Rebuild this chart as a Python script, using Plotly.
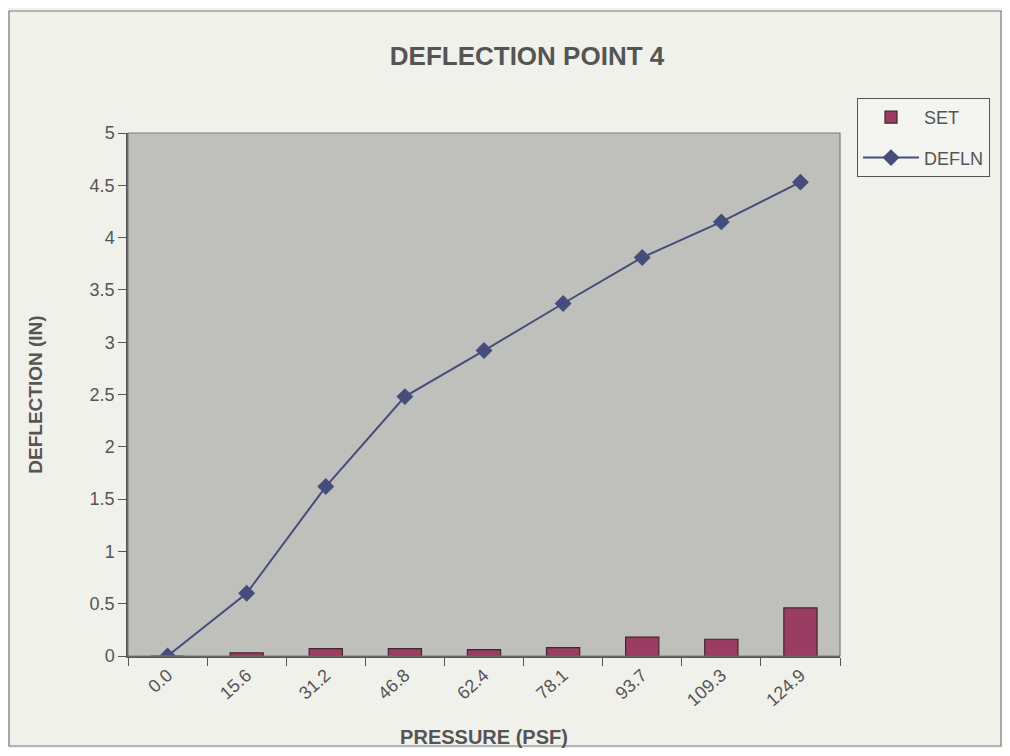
import plotly.graph_objects as go

pressure = ["0.0", "15.6", "31.2", "46.8", "62.4", "78.1", "93.7", "109.3", "124.9"]
set_vals = [0.0, 0.03, 0.07, 0.07, 0.06, 0.08, 0.18, 0.16, 0.46]
defln_vals = [0.0, 0.60, 1.62, 2.48, 2.92, 3.37, 3.81, 4.15, 4.53]

font_family = "Liberation Sans, Arial, sans-serif"
text_color = "#555555"

# page body has an 8px default margin; figure sized to fit inside window
W, H = 994, 740
L, T, R, B = 120, 125, 162, 92
pw, ph = W - L - R, H - T - B


def py(p):
    """figure pixel row -> paper y"""
    return (T + ph - p) / ph


def px(p):
    """figure pixel column -> paper x"""
    return (p - L) / pw


fig = go.Figure()
fig.add_trace(go.Bar(
    x=pressure, y=set_vals, name="SET", legendgroup="a",
    marker=dict(color="#9B3D63", line=dict(color="#3a2a30", width=1.2)),
    width=0.42,
))
fig.add_trace(go.Scatter(
    x=pressure, y=defln_vals, name="DEFLN", mode="lines+markers", legendgroup="b",
    line=dict(color="#454D7C", width=2),
    marker=dict(symbol="diamond", size=13, color="#454D7C"),
))

fig.update_layout(
    width=W, height=H,
    margin=dict(l=L, r=R, t=T, b=B, autoexpand=False),
    paper_bgcolor="#F1F1EC",
    plot_bgcolor="#BFC0BC",
    font=dict(family=font_family, size=18, color=text_color),
    title=dict(text="<b>DEFLECTION POINT 4</b>", x=px(527 - 8), xref="paper", xanchor="center",
               y=1 - 48 / H, yanchor="middle", font=dict(size=26, color=text_color)),
    showlegend=True,
    legend=dict(x=px(857 - 8), y=py(98 - 8), xanchor="left", yanchor="top",
                bgcolor="#F4F4F0", bordercolor="#555555", borderwidth=1,
                font=dict(size=18, color=text_color), tracegroupgap=14,
                itemwidth=56),
)
fig.update_xaxes(
    type="category", range=[-0.5, 8.5], automargin=False,
    tickangle=-42, tickson="boundaries", ticks="outside", ticklen=8,
    tickcolor="#555555", showline=True, linecolor="#555555", linewidth=1.5,
    showgrid=False, zeroline=False,
    title=dict(text="<b>PRESSURE (PSF)</b>", font=dict(size=20, color=text_color), standoff=22),
    tickfont=dict(size=18, color=text_color),
)
fig.update_yaxes(
    range=[0, 5], dtick=0.5, ticks="outside", ticklen=8, tickcolor="#555555", automargin=False,
    showline=True, linecolor="#555555", linewidth=1.5,
    showgrid=False, zeroline=False,
    title=dict(text="<b>DEFLECTION (IN)</b>", font=dict(size=19, color=text_color), standoff=42),
    tickfont=dict(size=18, color=text_color),
)
# plot area border (top/right)
fig.add_shape(type="rect", xref="paper", yref="paper", x0=0, y0=0, x1=1, y1=1,
              line=dict(color="#7a7a7a", width=1.2), layer="above")
# outer chart border
fig.add_shape(type="rect", xref="paper", yref="paper",
              x0=px(1), x1=px(W - 1), y0=py(H - 2), y1=py(3),
              line=dict(color="#777777", width=1.2), layer="below")

fig.write_html("out.html")
